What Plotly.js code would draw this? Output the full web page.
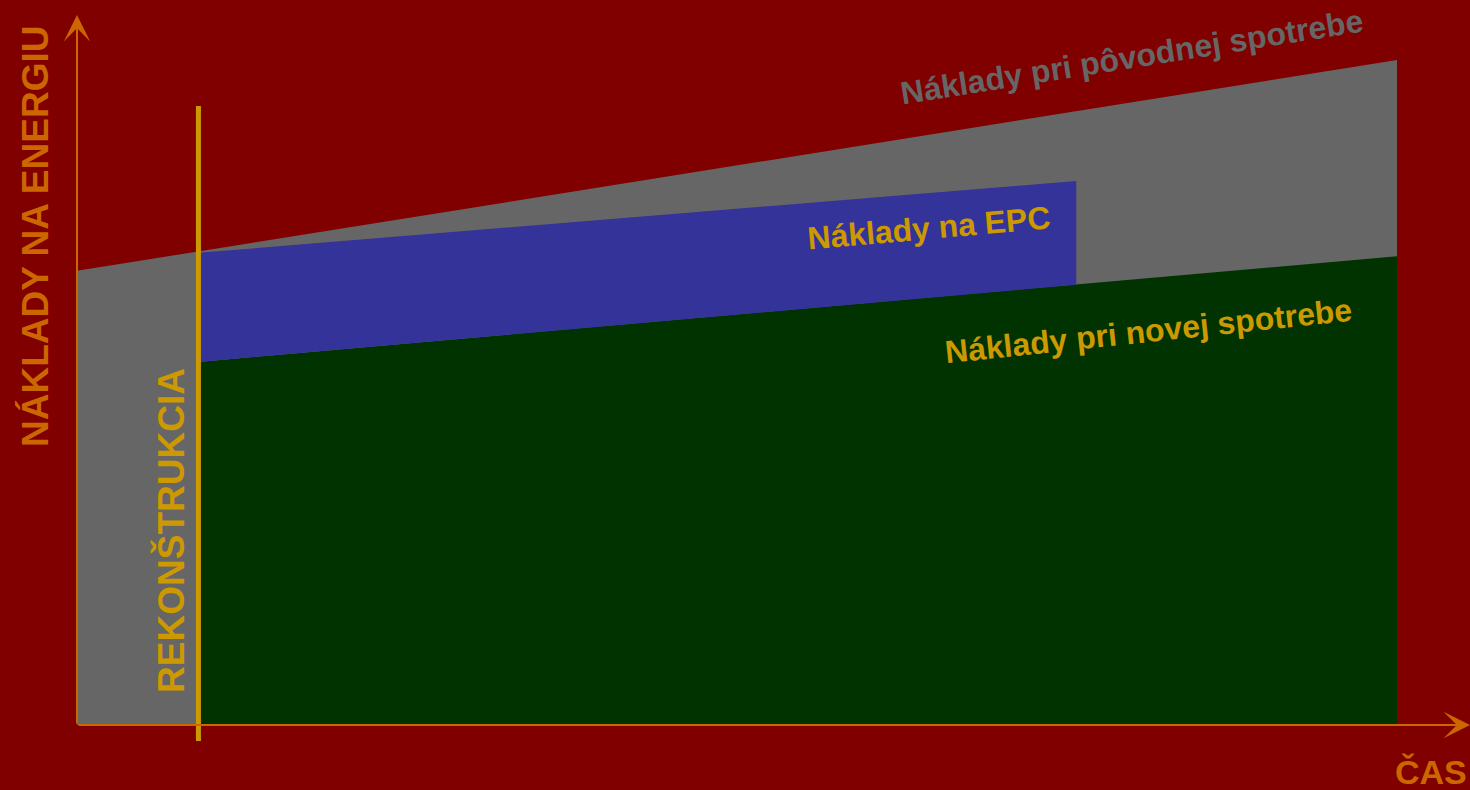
<!DOCTYPE html>
<html>
<head>
<meta charset="utf-8">
<script src="https://cdn.plot.ly/plotly-3.0.1.min.js"></script>
<style>
html,body{margin:0;padding:0;background:#800000;overflow:hidden;}
#chart{width:1470px;height:790px;}
</style>
</head>
<body>
<div id="chart"></div>
<script>
// ---- data (schematic: time vs. energy cost) ----
// Original consumption cost (grey area)
var origTime = [0, 0, 10, 10];
var origCost = [0, 68.3, 100, 0];
// New consumption cost after reconstruction (green area)
var newTime = [0.92, 0.92, 10, 10];
var newCost = [0, 54.6, 70.5, 0];
// EPC cost (blue band between new cost and its upper edge)
var epcTime = [0.92, 7.57, 7.57, 0.92];
var epcCost = [71.0, 81.8, 66.2, 54.6];
// Reconstruction moment (vertical marker)
var reconTime = [0.92, 0.92];
var reconCost = [-2.4, 93.1];
// Axis arrows (origin -> tips)
var axisOrigin = [0, 0];
var xAxisTip = [10.553, 0];
var yAxisTip = [0, 106.77];

var labels = {
  yTitle: 'NÁKLADY NA ENERGIU',
  xTitle: 'ČAS',
  recon: 'REKONŠTRUKCIA',
  orig: 'Náklady pri pôvodnej spotrebe',
  epc: 'Náklady na EPC',
  nw: 'Náklady pri novej spotrebe'
};

var FONT = 'Liberation Sans, Arial, Helvetica, sans-serif';
var ORANGE = '#CC6600', GOLD = '#CC9900', GREY = '#666666';

var traces = [
  {x: origTime, y: origCost, type: 'scatter', mode: 'lines', fill: 'toself',
   fillcolor: GREY, line: {width: 0, color: GREY}, hoverinfo: 'skip'},
  {x: newTime, y: newCost, type: 'scatter', mode: 'lines', fill: 'toself',
   fillcolor: '#003300', line: {width: 0, color: '#003300'}, hoverinfo: 'skip'},
  {x: epcTime, y: epcCost, type: 'scatter', mode: 'lines', fill: 'toself',
   fillcolor: '#333399', line: {width: 0, color: '#333399'}, hoverinfo: 'skip'},
  {x: reconTime, y: reconCost, type: 'scatter', mode: 'lines',
   line: {width: 5, color: GOLD}, hoverinfo: 'skip'}
];

var axisCommon = {showgrid: false, zeroline: false, showticklabels: false,
  showline: false, ticks: '', fixedrange: true};

var layout = {
  width: 1470, height: 790,
  margin: {l: 0, r: 0, t: 0, b: 0, pad: 0},
  paper_bgcolor: '#800000', plot_bgcolor: '#800000',
  showlegend: false,
  xaxis: Object.assign({range: [-0.5833, 10.553]}, axisCommon),
  yaxis: Object.assign({range: [-9.774, 109.023]}, axisCommon),
  annotations: [
    {x: xAxisTip[0], y: xAxisTip[1], ax: axisOrigin[0], ay: axisOrigin[1],
     xref: 'x', yref: 'y', axref: 'x', ayref: 'y', text: '', showarrow: true,
     arrowhead: 3, arrowwidth: 2, arrowsize: 2.2, arrowcolor: ORANGE},
    {x: yAxisTip[0], y: yAxisTip[1], ax: axisOrigin[0], ay: axisOrigin[1],
     xref: 'x', yref: 'y', axref: 'x', ayref: 'y', text: '', showarrow: true,
     arrowhead: 3, arrowwidth: 2, arrowsize: 2.2, arrowcolor: ORANGE},
    {x: -0.32, y: 73.5, xref: 'x', yref: 'y', text: labels.yTitle, showarrow: false,
     textangle: -90, font: {family: FONT, size: 37, color: ORANGE, weight: 'bold'}},
    {x: 10.26, y: -7.1, xref: 'x', yref: 'y', text: labels.xTitle, showarrow: false,
     font: {family: FONT, size: 34, color: ORANGE, weight: 'bold'}},
    {x: 0.71, y: 29.3, xref: 'x', yref: 'y', text: labels.recon, showarrow: false,
     textangle: -90, font: {family: FONT, size: 37, color: GOLD, weight: 'bold'}},
    {x: 7.99, y: 100.45, xref: 'x', yref: 'y', text: labels.orig, showarrow: false,
     textangle: -9, font: {family: FONT, size: 32, color: GREY, weight: 'bold'}},
    {x: 6.455, y: 74.74, xref: 'x', yref: 'y', text: labels.epc, showarrow: false,
     textangle: -5, font: {family: FONT, size: 32, color: GOLD, weight: 'bold'}},
    {x: 8.12, y: 59.2, xref: 'x', yref: 'y', text: labels.nw, showarrow: false,
     textangle: -6, font: {family: FONT, size: 32, color: GOLD, weight: 'bold'}}
  ]
};

Plotly.newPlot('chart', traces, layout, {staticPlot: true, displayModeBar: false});
</script>
</body>
</html>
